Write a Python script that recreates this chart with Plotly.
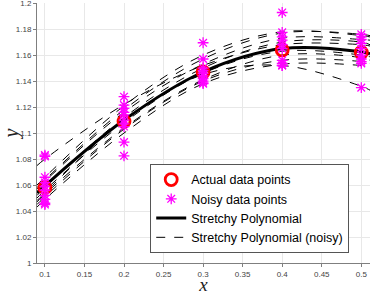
import plotly.graph_objects as go

# Data
x_data = [0.1, 0.2, 0.3, 0.4, 0.5]
y_actual = [1.058, 1.109, 1.147, 1.164, 1.162]

noisy_01 = [1.083, 1.082, 1.066, 1.062, 1.059, 1.056, 1.052, 1.049, 1.046, 1.045]
noisy_02 = [1.128, 1.1215, 1.119, 1.116, 1.114, 1.110, 1.107, 1.105, 1.093, 1.0825]
noisy_03 = [1.1695, 1.157, 1.150, 1.148, 1.146, 1.144, 1.142, 1.140, 1.1387, 1.138]
noisy_04 = [1.1928, 1.1775, 1.174, 1.1715, 1.168, 1.165, 1.156, 1.1536, 1.152, 1.152]
noisy_05 = [1.176, 1.174, 1.172, 1.169, 1.165, 1.160, 1.157, 1.155, 1.1536, 1.135]

# Curve sample positions and values
x_curve = [0.09, 0.1, 0.2, 0.3, 0.4, 0.5, 0.511]
solid_curve = [1.054, 1.0595, 1.110, 1.147, 1.165, 1.1625, 1.161]
dashed_curves = [
    [1.075, 1.080, 1.122, 1.152, 1.168, 1.168, 1.167],
    [1.060, 1.066, 1.121, 1.160, 1.178, 1.175, 1.174],
    [1.058, 1.064, 1.118, 1.157, 1.177, 1.176, 1.175],
    [1.057, 1.063, 1.116, 1.153, 1.173, 1.172, 1.1715],
    [1.052, 1.058, 1.112, 1.150, 1.170, 1.170, 1.168],
    [1.050, 1.056, 1.108, 1.146, 1.163, 1.160, 1.1587],
    [1.047, 1.053, 1.104, 1.141, 1.160, 1.158, 1.156],
    [1.045, 1.051, 1.103, 1.140, 1.156, 1.155, 1.1536],
    [1.043, 1.049, 1.100, 1.138, 1.153, 1.152, 1.151],
    [1.048, 1.054, 1.110, 1.145, 1.152, 1.136, 1.133],
]

x_ticks = [0.1, 0.15, 0.2, 0.25, 0.3, 0.35, 0.4, 0.45, 0.5]
x_tick_labels = ["0.1", "0.15", "0.2", "0.25", "0.3", "0.35", "0.4", "0.45", "0.5"]
y_ticks = [1.0, 1.02, 1.04, 1.06, 1.08, 1.1, 1.12, 1.14, 1.16, 1.18, 1.2]
y_tick_labels = ["1", "1.02", "1.04", "1.06", "1.08", "1.1", "1.12", "1.14", "1.16", "1.18", "1.2"]

fig = go.Figure()

for i, c in enumerate(dashed_curves):
    fig.add_trace(go.Scatter(
        x=x_curve, y=c, mode="lines", line=dict(color="black", width=1, dash="dash", shape="spline"),
        name="Stretchy Polynomial (noisy)", showlegend=(i == 0), legendrank=4,
    ))

fig.add_trace(go.Scatter(
    x=x_curve, y=solid_curve, mode="lines", line=dict(color="black", width=3, shape="spline"),
    name="Stretchy Polynomial", legendrank=3,
))

fig.add_trace(go.Scatter(
    x=x_data, y=y_actual, mode="markers",
    marker=dict(symbol="circle-open", size=12, color="red", line=dict(width=2.8, color="red")),
    name="Actual data points", legendrank=1,
))

nx, ny = [], []
for xv, ys in zip(x_data, [noisy_01, noisy_02, noisy_03, noisy_04, noisy_05]):
    nx += [xv] * len(ys)
    ny += ys
fig.add_trace(go.Scatter(
    x=nx, y=ny, mode="markers",
    marker=dict(symbol="asterisk-open", size=9, color="#ff00ff", line=dict(width=1.3, color="#ff00ff")),
    name="Noisy data points", legendrank=2,
))

axis_common = dict(
    showgrid=True, gridcolor="#e8e8e8", gridwidth=1, zeroline=False, automargin=False,
    showline=True, linecolor="#7f7f7f", linewidth=1, ticks="outside", ticklen=3,
    tickcolor="#7f7f7f", ticklabeloverflow="allow",
    tickfont=dict(family="Liberation Sans, Arial", size=8, color="#444"),
)

fig.update_layout(
    width=371, height=295,
    margin=dict(l=37, r=1, t=3, b=32),
    paper_bgcolor="white", plot_bgcolor="white",
    xaxis=dict(range=[0.09, 0.511], tickvals=x_ticks, ticktext=x_tick_labels,
               title=dict(text="<i>x</i>", font=dict(family="Liberation Serif, DejaVu Serif", size=19, color="#222"), standoff=7),
               **axis_common),
    yaxis=dict(range=[1.0, 1.2001], tickvals=y_ticks, ticktext=y_tick_labels,
               title=dict(text="<i>y</i>", font=dict(family="Liberation Serif, DejaVu Serif", size=20, color="#222"), standoff=4),
               **axis_common),
    legend=dict(x=0.34, y=0.381, xanchor="left", yanchor="top",
                bgcolor="white", bordercolor="#555", borderwidth=1,
                font=dict(family="Liberation Sans, Arial", size=12.5, color="black"),
                tracegroupgap=0, itemwidth=30),
    showlegend=True,
)

fig.write_html("out.html", config={"displayModeBar": False},
               post_script="document.body.style.margin='0';")
